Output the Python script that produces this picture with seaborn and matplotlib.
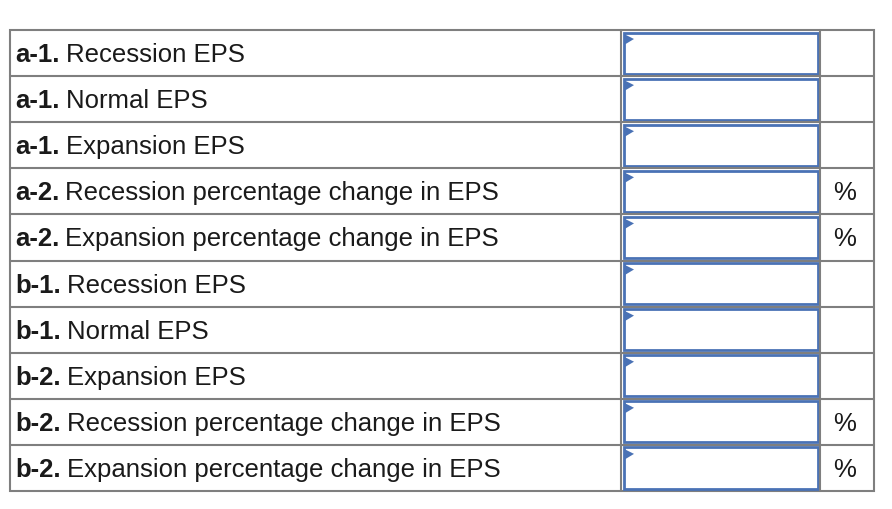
import matplotlib.pyplot as plt
from matplotlib.patches import Rectangle, Polygon
import seaborn as sns

sns.set_style("white")
plt.rcParams['font.family'] = ['Liberation Sans', 'DejaVu Sans']

# ---------------- DATA ----------------
prefixes = ["a-1.", "a-1.", "a-1.", "a-2.", "a-2.", "b-1.", "b-1.", "b-2.", "b-2.", "b-2."]
labels = ["Recession EPS", "Normal EPS", "Expansion EPS",
          "Recession percentage change in EPS", "Expansion percentage change in EPS",
          "Recession EPS", "Normal EPS", "Expansion EPS",
          "Recession percentage change in EPS", "Expansion percentage change in EPS"]
units = ["", "", "", "%", "%", "", "", "", "%", "%"]

# ---------------- LAYOUT (pixels) ----------------
W, H = 892, 510
left, right, top, bottom = 10, 874, 31, 492
col1, col2 = 621, 820
row_h = (bottom - top) / len(labels)
grid = "#7f7f7f"
blue = "#4a72b5"
txt = "#1a1a1a"
fs = 18.5

fig = plt.figure(figsize=(W / 100, H / 100), dpi=100)
ax = fig.add_axes([0, 0, 1, 1])
ax.set_xlim(0, W)
ax.set_ylim(H, 0)
ax.axis("off")

ax.add_patch(Rectangle((left, top), right - left, bottom - top, fill=False, ec=grid, lw=1.5))
for x in (col1, col2):
    ax.plot([x, x], [top, bottom], color=grid, lw=1.5)

fig.canvas.draw()
renderer = fig.canvas.get_renderer()
for i, (p, lab, u) in enumerate(zip(prefixes, labels, units)):
    y0 = top + i * row_h
    if i > 0:
        ax.plot([left, right], [y0, y0], color=grid, lw=1.5)
    yc = y0 + row_h / 2 + 1
    t = ax.text(15, yc, p, fontsize=fs, fontweight="bold", va="center", color=txt)
    bb = t.get_window_extent(renderer).transformed(ax.transData.inverted())
    ax.text(bb.x1 + 6, yc, lab, fontsize=fs, va="center", color=txt)
    # input box
    ax.add_patch(Rectangle((col1 + 2.5, y0 + 2.5), col2 - col1 - 5, row_h - 5,
                           fill=False, ec=blue, lw=2))
    ax.add_patch(Polygon([(col1 + 3, y0 + 4), (col1 + 13, y0 + 9), (col1 + 3, y0 + 15)],
                         closed=True, fc=blue, ec="none"))
    if u:
        ax.text((col2 + right) / 2 - 2, yc, u, fontsize=fs, ha="center", va="center", color=txt)

fig.savefig("out.png", dpi=100)
